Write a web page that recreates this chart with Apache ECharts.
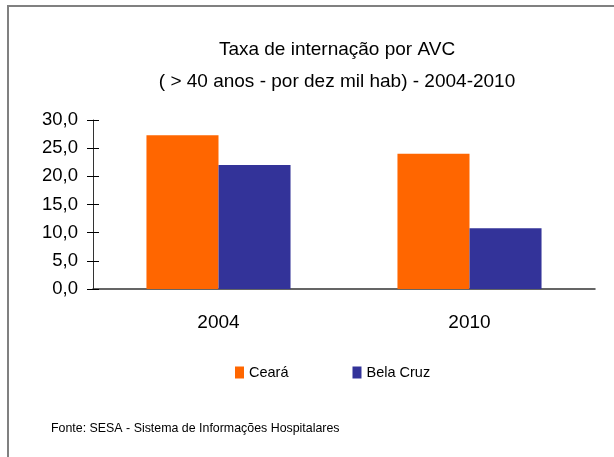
<!DOCTYPE html>
<html>
<head>
<meta charset="utf-8">
<script src="https://cdn.jsdelivr.net/npm/echarts@6/dist/echarts.min.js"></script>
<style>
  html, body { margin: 0; padding: 0; background: #fff; }
  #chart { width: 614px; height: 457px; }
</style>
</head>
<body>
<div id="chart"></div>
<script>
// data
const years = ["2004", "2010"];
const ceara = [27.3, 24.0];
const belaCruz = [22.0, 10.8];
const seriesNames = ["Ceará", "Bela Cruz"];

const chart = echarts.init(document.getElementById("chart"));
const font = "Liberation Sans";

const option = {
  animation: false,
  backgroundColor: "#fff",
  title: {
    text: "Taxa de internação por AVC\n( > 40 anos - por dez mil hab) - 2004-2010",
    left: 332,
    textAlign: "center",
    top: 29,
    textStyle: {
      fontFamily: font,
      fontWeight: "normal",
      fontSize: 19,
      lineHeight: 32,
      color: "#000",
    },
  },
  legend: {
    left: 235,
    top: 365,
    padding: 0,
    itemWidth: 9,
    itemHeight: 12,
    itemGap: 64,
    icon: "rect",
    textStyle: { fontFamily: font, fontSize: 14.5, color: "#000" },
    data: seriesNames,
  },
  grid: { left: 93, right: 19, top: 120, bottom: 168 },
  xAxis: [
    {
      type: "category",
      data: years,
      axisLine: { lineStyle: { color: "#333", width: 1.5 } },
      axisTick: { length: 7, lineStyle: { color: "#000" } },
      axisLabel: { fontFamily: font, fontSize: 19, color: "#000", margin: 24 },
    },
    {
      // upper half of the crossing ticks
      type: "category",
      data: years,
      position: "bottom",
      axisLine: { show: false },
      axisTick: { inside: true, length: 7, lineStyle: { color: "#000" } },
      axisLabel: { show: false },
    },
  ],
  yAxis: [
    {
      type: "value",
      min: 0,
      max: 30,
      interval: 5,
      axisLine: { show: true, lineStyle: { color: "#333" } },
      axisTick: { show: true, length: 6, lineStyle: { color: "#000" } },
      splitLine: { show: false },
      axisLabel: {
        fontFamily: font,
        fontSize: 18.5,
        color: "#000",
        margin: 15,
        formatter: (v) => v.toFixed(1).replace(".", ","),
      },
    },
    {
      type: "value",
      position: "left",
      min: 0,
      max: 30,
      interval: 5,
      axisLine: { show: false },
      axisTick: { show: true, inside: true, length: 6, lineStyle: { color: "#000" } },
      splitLine: { show: false },
      axisLabel: { show: false },
    },
  ],
  series: [
    {
      name: seriesNames[0],
      type: "bar",
      data: ceara,
      itemStyle: { color: "#FF6600" },
      barGap: "0%",
      barCategoryGap: "42.6%",
    },
    {
      name: seriesNames[1],
      type: "bar",
      data: belaCruz,
      itemStyle: { color: "#333399" },
      barGap: "0%",
      barCategoryGap: "42.6%",
    },
  ],
  graphic: [
    {
      type: "rect",
      shape: { x: 8, y: 6, width: 700, height: 600 },
      style: { fill: "none", stroke: "#808080", lineWidth: 2 },
      silent: true,
    },
    {
      type: "text",
      left: 51,
      top: 423,
      style: {
        text: "Fonte: SESA - Sistema de Informações Hospitalares",
        fontFamily: font,
        fontSize: 12.4,
        fill: "#000",
      },
    },
  ],
};

chart.setOption(option);
</script>
</body>
</html>
